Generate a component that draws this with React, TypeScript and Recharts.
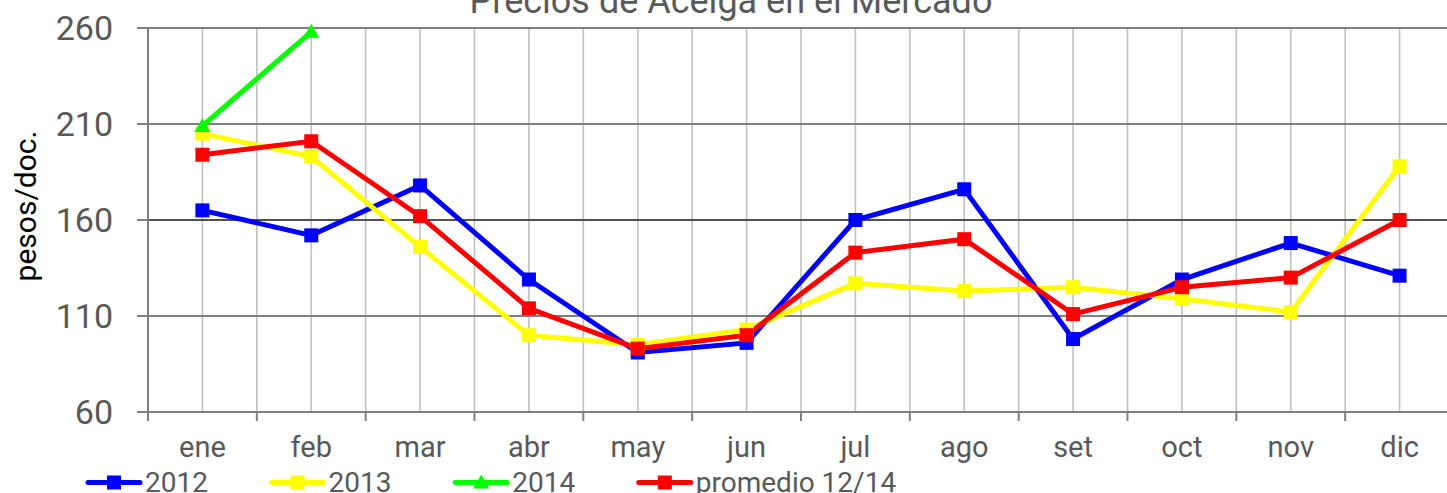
import React from 'react';
import { LineChart, Line, XAxis, YAxis, CartesianGrid, ReferenceLine } from 'recharts';

const months = ['ene', 'feb', 'mar', 'abr', 'may', 'jun', 'jul', 'ago', 'set', 'oct', 'nov', 'dic'];
const s2012 = [165, 152, 178, 129, 91, 96, 160, 176, 98, 129, 148, 131];
const s2013 = [205, 193, 146, 100, 95, 103, 127, 123, 125, 119, 112, 188];
const s2014: (number | null)[] = [209, 258, null, null, null, null, null, null, null, null, null, null];
const promedio = [194, 201, 162, 114, 93, 100, 143, 150, 111, 125, 130, 160];
const yTicks = [60, 110, 160, 210, 260];

const title = 'Precios de Acelga en el Mercado';
const yLabel = 'pesos/doc.';

const series = [
  { key: 'y2012', name: '2012', color: '#0000FF', shape: 'square' },
  { key: 'y2013', name: '2013', color: '#FFFF00', shape: 'square' },
  { key: 'y2014', name: '2014', color: '#00FF00', shape: 'triangle' },
  { key: 'prom', name: 'promedio 12/14', color: '#FF0000', shape: 'square' },
];

const data = months.map((m, i) => ({
  x: i + 0.5,
  month: m,
  y2012: s2012[i],
  y2013: s2013[i],
  y2014: s2014[i],
  prom: promedio[i],
}));

const xTicks = Array.from({ length: months.length * 2 + 1 }, (_, i) => i / 2);

const FONT = 'Roboto, "Liberation Sans", sans-serif';
const TEXT = '#595959';

const marker = (shape: string, color: string, cx: number, cy: number, key?: any) => {
  if (shape === 'triangle') {
    return (
      <polygon key={key} points={`${cx},${cy - 8} ${cx + 8},${cy + 6} ${cx - 8},${cy + 6}`} fill={color} />
    );
  }
  return <rect key={key} x={cx - 7} y={cy - 7} width={14} height={14} fill={color} />;
};

const makeDot = (shape: string, color: string) => (props: any) => {
  const { cx, cy, value, index } = props;
  if (value == null || cx == null || cy == null) return <g key={`e${index}`} />;
  return marker(shape, color, cx, cy, `d${index}`);
};

const XTick = (props: any) => {
  const { x, y, payload } = props;
  const v = payload.value as number;
  if (Number.isInteger(v)) {
    return <line x1={x} x2={x} y1={y} y2={y + 9} stroke="#808080" strokeWidth={2} />;
  }
  const label = months[Math.floor(v)];
  return (
    <text x={x} y={y + 45} textAnchor="middle" fill={TEXT} fontSize={29} fontFamily={FONT}>
      {label}
    </text>
  );
};

export default function App() {
  return (
    <div style={{ position: 'absolute', left: 0, top: 0, width: 1447, height: 493, overflow: 'hidden', background: '#fff' }}>
      <LineChart
        width={1460}
        height={493}
        data={data}
        margin={{ top: 28, right: 6, bottom: 21, left: 0 }}
      >
        <CartesianGrid horizontal={false} vertical={true} stroke="#C0C0C0" strokeWidth={1.6} />
        <CartesianGrid horizontal={true} vertical={false} stroke="#808080" strokeWidth={1.8} />
        <ReferenceLine y={160} stroke="#222" strokeWidth={1.2} />
        <XAxis
          dataKey="x"
          type="number"
          domain={[0, months.length]}
          ticks={xTicks}
          interval={0}
          tickLine={false}
          tickSize={0}
          tickMargin={0}
          tick={<XTick />}
          axisLine={{ stroke: '#808080', strokeWidth: 2 }}
          height={60}
        />
        <YAxis
          type="number"
          domain={[60, 260]}
          ticks={yTicks}
          interval={0}
          width={148}
          tickSize={11}
          tickMargin={24}
          axisLine={{ stroke: '#808080', strokeWidth: 2 }}
          tickLine={{ stroke: '#808080', strokeWidth: 2 }}
          tick={{ fill: TEXT, fontSize: 34, fontFamily: FONT }}
        />
        {series.map((s) => (
          <Line
            key={s.key}
            dataKey={s.key}
            name={s.name}
            stroke={s.color}
            strokeWidth={5}
            dot={makeDot(s.shape, s.color)}
            activeDot={false}
            connectNulls={false}
            isAnimationActive={false}
          />
        ))}
      </LineChart>
      <svg
        width={1447}
        height={493}
        style={{ position: 'absolute', left: 0, top: 0, pointerEvents: 'none' }}
      >
        <text x={731} y={13} textAnchor="middle" fill={TEXT} fontSize={36} fontFamily={FONT}>
          {title}
        </text>
        <text
          x={0}
          y={0}
          transform="translate(36 206) rotate(-90)"
          textAnchor="middle"
          fill="#000"
          fontSize={30}
          fontFamily={FONT}
        >
          {yLabel}
        </text>
        {series.map((s, i) => {
          const left = 86 + i * 183.6;
          const cy = 482.5;
          return (
            <g key={s.key}>
              <line x1={left + 2} x2={left + 54} y1={cy} y2={cy} stroke={s.color} strokeWidth={5} strokeLinecap="round" />
              {marker(s.shape, s.color, left + 28, cy)}
              <text x={left + 59} y={492} fill={TEXT} fontSize={28} fontFamily={FONT}>
                {s.name}
              </text>
            </g>
          );
        })}
      </svg>
    </div>
  );
}
